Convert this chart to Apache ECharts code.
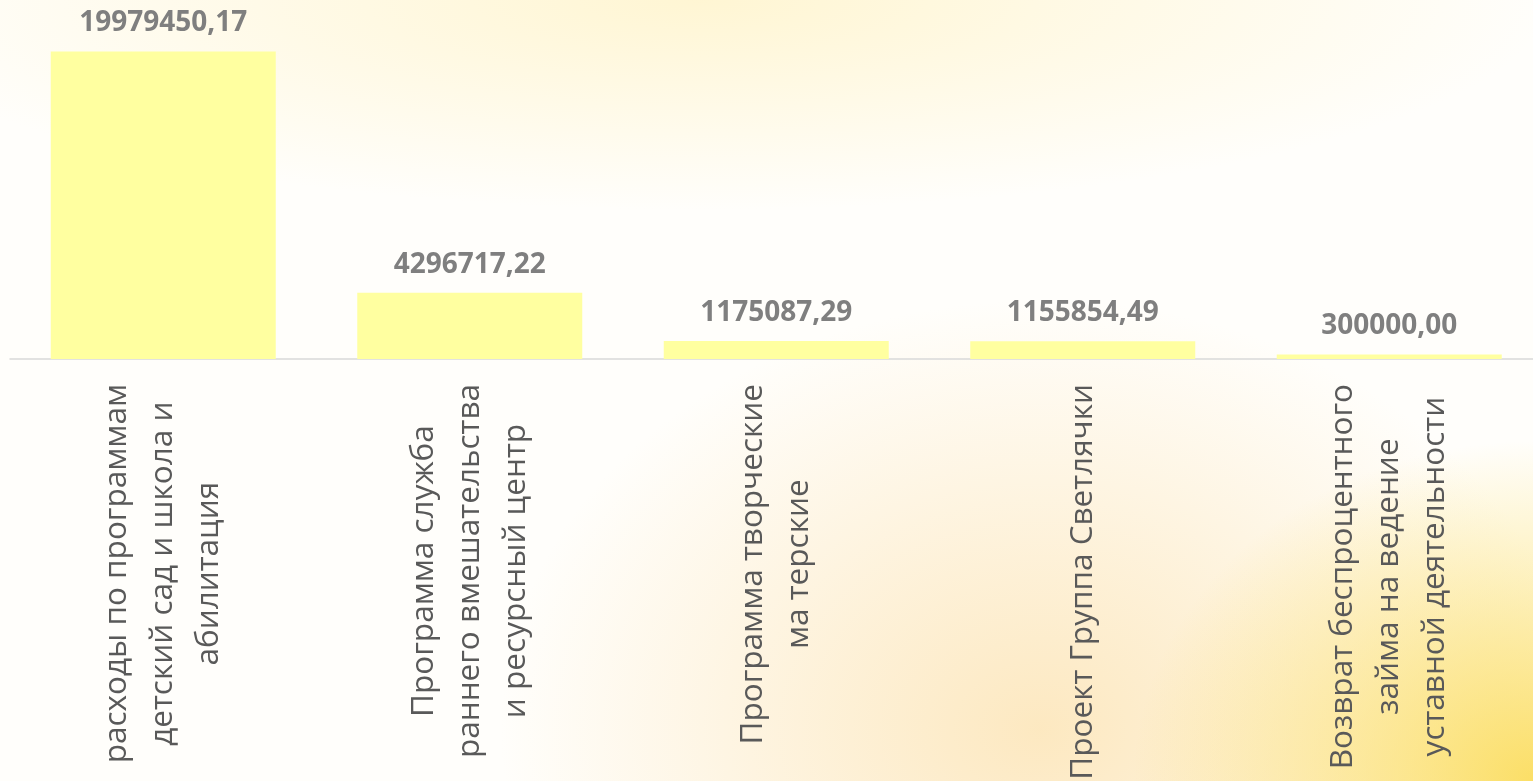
<!DOCTYPE html>
<html>
<head>
<meta charset="utf-8">
<script src="https://cdn.jsdelivr.net/npm/echarts@6/dist/echarts.min.js"></script>
<style>
html,body{margin:0;padding:0;width:1533px;height:781px;overflow:hidden;}
body{
  background:
    radial-gradient(ellipse 400px 340px at 1533px 781px, rgba(251,221,95,0.95), rgba(251,221,95,0) 100%),
    radial-gradient(ellipse 540px 430px at 1040px 730px, rgba(252,227,178,0.8), rgba(252,227,178,0) 100%),
    radial-gradient(ellipse 850px 210px at 700px 0px, rgba(255,243,198,0.75), rgba(255,243,198,0) 100%),
    #fffefb;
}
#chart{width:1533px;height:781px;}
</style>
</head>
<body>
<div id="chart"></div>
<script>
const categories = [
  "расходы по программам\nдетский сад и школа и\nабилитация",
  "Программа служба\nраннего вмешательства\nи ресурсный центр",
  "Программа творческие\nма терские",
  "Проект Группа Светлячки",
  "Возврат беспроцентного\nзайма на ведение\nуставной деятельности"
];
const values = [19979450.17, 4296717.22, 1175087.29, 1155854.49, 300000.00];
const valueLabels = ["19979450,17", "4296717,22", "1175087,29", "1155854,49", "300000,00"];

const chart = echarts.init(document.getElementById('chart'), null, {renderer: 'canvas'});
chart.setOption({
  backgroundColor: 'transparent',
  animation: false,
  grid: {left: 10, top: 5, width: 1532.5, height: 354, containLabel: false, outerBoundsMode: 'none'},
  xAxis: {
    type: 'category',
    data: categories,
    axisLine: {show: true, lineStyle: {color: '#d9d9d9', width: 1.5}},
    axisTick: {show: false},
    axisLabel: {
      rotate: 90,
      margin: 25,
      interval: 0,
      color: '#595959',
      fontFamily: 'Open Sans',
      fontSize: 31.5,
      formatter: function (v) {
        return v.split('\n').map(function (l) { return '{c|' + l + '}'; }).join('\n');
      },
      rich: {
        c: {align: 'center', color: '#595959', fontFamily: 'Open Sans', fontSize: 31.5, lineHeight: 46}
      }
    }
  },
  yAxis: {
    type: 'value',
    min: 0,
    max: 23000000,
    show: false,
    splitLine: {show: false}
  },
  series: [{
    type: 'bar',
    data: values,
    barWidth: 225,
    itemStyle: {color: '#ffffa0'},
    label: {
      show: true,
      position: 'top',
      distance: 14,
      color: '#7f7f7f',
      fontFamily: 'Open Sans',
      fontWeight: 'bold',
      fontSize: 28,
      formatter: function (p) { return valueLabels[p.dataIndex]; }
    }
  }]
});
</script>
</body>
</html>
